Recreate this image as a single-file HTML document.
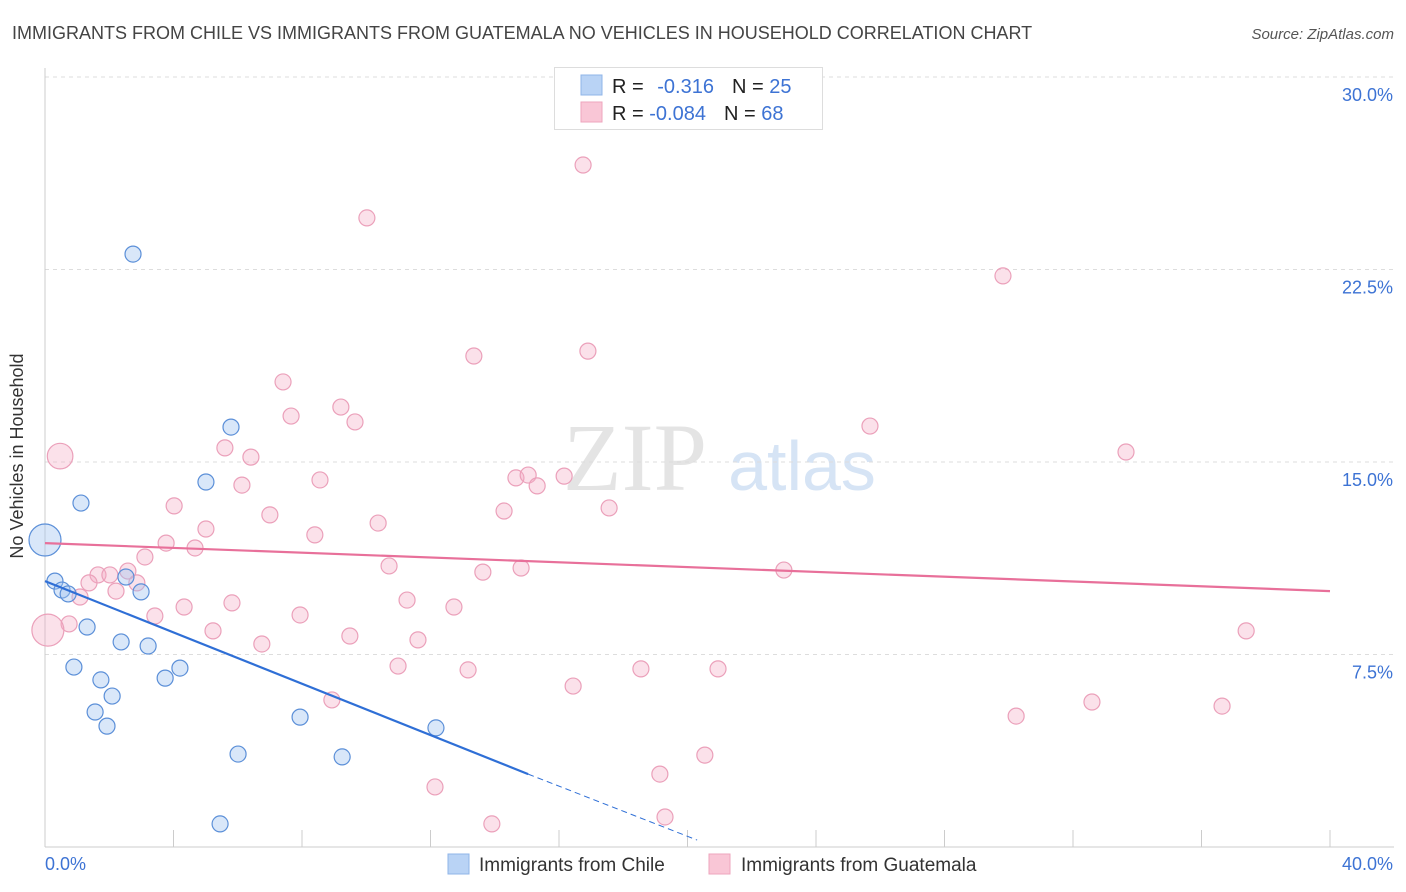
<!DOCTYPE html>
<html><head><meta charset="utf-8"><style>
body{margin:0;background:#fff;font-family:"Liberation Sans",sans-serif;}
svg{display:block}
</style></head><body>
<svg id="c" width="1406" height="892" xmlns="http://www.w3.org/2000/svg">
<text x="12" y="39" font-size="18" fill="#444">IMMIGRANTS FROM CHILE VS IMMIGRANTS FROM GUATEMALA NO VEHICLES IN HOUSEHOLD CORRELATION CHART</text>
<text x="1394" y="39" font-size="15" fill="#555" font-style="italic" text-anchor="end">Source: ZipAtlas.com</text>
<text x="635" y="490" font-size="96" fill="#e4e4e4" font-family="Liberation Serif" text-anchor="middle">ZIP</text>
<text x="802" y="490" font-size="70" fill="#d6e4f5" text-anchor="middle">atlas</text>
<g id="grid"></g><g id="axes"></g><g id="pts"></g><g id="lines"></g>
<text x="23" y="456" font-size="18" fill="#333" text-anchor="middle" transform="rotate(-90 23 456)">No Vehicles in Household</text>
<text x="45" y="870" font-size="18" fill="#3d73d4">0.0%</text>
<text x="1393" y="870" font-size="18" fill="#3d73d4" text-anchor="end">40.0%</text>
<g>
<rect x="554.5" y="67.5" width="268" height="62" fill="#fff" stroke="#ddd"/>
<rect x="581" y="75" width="21" height="20" fill="#b9d3f5" stroke="#8fb5e8"/>
<rect x="581" y="102" width="21" height="20" fill="#f9c6d6" stroke="#eea5bd"/>
<text x="612" y="93" font-size="20" fill="#222">R = <tspan fill="#3d73d4" dx="8">-0.316</tspan><tspan dx="18">N = </tspan><tspan fill="#3d73d4">25</tspan></text>
<text x="612" y="120" font-size="20" fill="#222">R = <tspan fill="#3d73d4">-0.084</tspan><tspan dx="18">N = </tspan><tspan fill="#3d73d4">68</tspan></text>
</g>
<g>
<rect x="448" y="854" width="21" height="20" fill="#b9d3f5" stroke="#8fb5e8"/>
<text x="479" y="871" font-size="19" fill="#333">Immigrants from Chile</text>
<rect x="709" y="854" width="21" height="20" fill="#f9c6d6" stroke="#eea5bd"/>
<text x="741" y="871" font-size="19" fill="#333">Immigrants from Guatemala</text>
</g>
</svg>
<script>
const yTicks=[7.5,15,22.5,30];
const yTickLabels=["7.5%","15.0%","22.5%","30.0%"];
const chileX=[2.74,5.79,5.01,1.12,0,0.31,0.53,0.72,2.52,2.99,1.31,2.37,3.21,0.90,1.74,2.09,3.74,4.20,1.56,1.93,7.94,12.17,6.01,9.25,5.45];
const chileY=[23.10,16.36,14.22,13.40,11.96,10.36,10.01,9.86,10.52,9.94,8.57,7.99,7.83,7.01,6.51,5.88,6.58,6.97,5.26,4.71,5.06,4.64,3.62,3.51,0.90];
const chileSize=[1,1,1,1,2,1,1,1,1,1,1,1,1,1,1,1,1,1,1,1,1,1,1,1,1];
const guatX=[16.75,10.02,29.82,13.35,16.90,7.41,7.66,9.21,9.65,25.68,33.65,0.47,5.60,6.41,6.13,8.56,4.02,7.00,10.37,14.29,14.66,15.04,15.32,16.16,17.56,5.01,8.40,3.77,4.67,3.11,10.71,13.63,14.82,23.00,1.65,2.02,2.58,2.86,1.37,2.21,1.09,3.42,4.33,5.82,7.94,11.27,12.73,0.75,0.09,5.23,6.75,9.49,11.61,10.99,13.17,18.55,20.95,16.44,8.93,30.23,32.59,36.64,37.39,20.54,19.14,12.14,19.30,13.91];
const guatY=[26.57,24.51,22.25,19.13,19.32,18.12,16.79,17.14,16.56,16.40,15.39,15.23,15.55,15.19,14.10,14.30,13.29,12.94,12.62,13.09,14.38,14.49,14.07,14.45,13.21,12.39,12.16,11.84,11.65,11.30,10.95,10.71,10.87,10.79,10.60,10.60,10.75,10.29,10.29,9.97,9.74,9.00,9.35,9.51,9.04,9.62,9.35,8.69,8.45,8.42,7.91,8.22,8.07,7.05,6.90,6.94,6.94,6.27,5.73,5.10,5.65,5.49,8.42,3.58,2.84,2.34,1.17,0.90];
const guatSize=guatX.map((v,i)=>(i===11?1.6:(i===48?2:1)));
const chileTrend=[0,10.36,15.04,2.84,20.30,0.27];
const guatTrend=[0,11.84,40,9.97];
const NS="http://www.w3.org/2000/svg";
const X=v=>45+v*32.125, Y=v=>847-v*25.667;
function mk(t,a,p){const e=document.createElementNS(NS,t);for(const k in a)e.setAttribute(k,a[k]);document.getElementById(p).appendChild(e);return e;}
yTicks.forEach((t,i)=>{
 const l=mk('line',{x1:45,x2:1394,y1:Y(t),y2:Y(t),stroke:'#ddd','stroke-dasharray':'4 4'},'grid');
 
 
 const tx=mk('text',{x:1393,y:Y(t)+24,'font-size':18,fill:'#3d73d4','text-anchor':'end'},'grid');
 tx.textContent=yTickLabels[i];
 
 
});
let a=mk('line',{x1:45,x2:45,y1:68,y2:847,stroke:'#ccc'},'axes');


a=mk('line',{x1:45,x2:1394,y1:847,y2:847,stroke:'#ccc'},'axes');


for(let i=0;i<=10;i++){const t=mk('line',{x1:X(i*4),x2:X(i*4),y1:830,y2:847,stroke:'#ccc'},'axes');
 
 }
guatX.forEach((v,i)=>{const c=mk('circle',{cx:X(v),cy:Y(guatY[i]),r:8*guatSize[i],fill:'rgba(244,170,196,0.35)',stroke:'#eba0ba','stroke-width':1.2},'pts');
 
 });
chileX.forEach((v,i)=>{const c=mk('circle',{cx:X(v),cy:Y(chileY[i]),r:8*chileSize[i],fill:'rgba(160,196,240,0.4)',stroke:'#5b8fd8','stroke-width':1.2},'pts');
 
 });
let ln=mk('line',{x1:X(guatTrend[0]),y1:Y(guatTrend[1]),x2:X(guatTrend[2]),y2:Y(guatTrend[3]),stroke:'#e8709a','stroke-width':2.2},'lines');


ln=mk('line',{x1:X(chileTrend[0]),y1:Y(chileTrend[1]),x2:X(chileTrend[2]),y2:Y(chileTrend[3]),stroke:'#2f6fd6','stroke-width':2.2},'lines');


ln=mk('line',{x1:X(chileTrend[2]),y1:Y(chileTrend[3]),x2:X(chileTrend[4]),y2:Y(chileTrend[5]),stroke:'#2f6fd6','stroke-width':1,'stroke-dasharray':'6 4'},'lines');


</script>
</body></html>
